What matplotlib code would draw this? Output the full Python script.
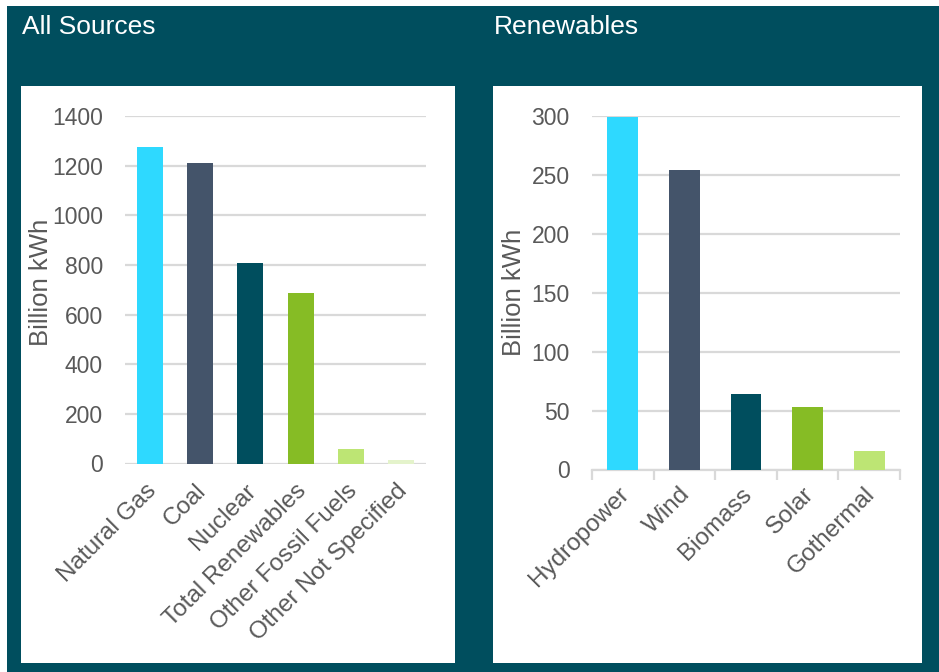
import matplotlib
matplotlib.use("Agg")
import matplotlib.pyplot as plt
import matplotlib.transforms as mtransforms
from matplotlib.patches import Rectangle

plt.rcParams['font.family'] = ['Liberation Sans', 'DejaVu Sans']

# ── Data ─────────────────────────────────────────────────────────
all_labels = ["Natural Gas", "Coal", "Nuclear", "Total Renewables",
              "Other Fossil Fuels", "Other Not Specified"]
all_values = [1274, 1211, 808, 687, 58, 14]

ren_labels = ["Hydropower", "Wind", "Biomass", "Solar", "Gothermal"]
ren_values = [299, 254, 64, 53, 16]

# ── Style ────────────────────────────────────────────────────────
BG = '#004E5E'
GRID = '#D9D9D9'
TXT = '#595959'
all_colors = ['#2ED9FF', '#44546A', '#004E5E', '#86BC25', '#BDE574', '#E4F3CB']
ren_colors = ['#2ED9FF', '#44546A', '#004E5E', '#86BC25', '#BDE574']

W, H = 939, 672
fig = plt.figure(figsize=(W / 100, H / 100), dpi=100, facecolor='white')

def px_rect(x0, y0, x1, y1, color):
    # rectangle in pixel coords (top-left origin) on the figure
    fig.patches.append(Rectangle((x0 / W, 1 - y1 / H), (x1 - x0) / W, (y1 - y0) / H,
                                 transform=fig.transFigure, facecolor=color,
                                 edgecolor='none', zorder=-10))

px_rect(7, 6, W, H, BG)
px_rect(21, 86, 455, 663, 'white')
px_rect(493, 86, 922, 663, 'white')

fig.text(22 / W, 1 - 27 / H, "All Sources", color='white', fontsize=19, va='center')
fig.text(494 / W, 1 - 27 / H, "Renewables", color='white', fontsize=19, va='center')

shift = mtransforms.ScaledTranslation(-5 / 100, 0, fig.dpi_scale_trans)


def style(ax, ymax, step):
    ax.set_facecolor('none')
    for s in ax.spines.values():
        s.set_visible(False)
    ax.set_ylim(0, ymax)
    ax.set_yticks(range(0, ymax + 1, step))
    ax.grid(axis='y', color=GRID, lw=1.6)
    ax.set_axisbelow(True)
    ax.tick_params(axis='y', length=0, pad=16, labelsize=16.5, labelcolor=TXT)
    ax.set_ylabel("Billion kWh", fontsize=18.5, color=TXT)


# ── Left: all sources ────────────────────────────────────────────
ax1 = fig.add_axes([125 / W, 1 - 463.5 / H, 301 / W, 347.5 / H])
ax1.bar(range(len(all_values)), all_values, width=0.52, color=all_colors, zorder=3)
ax1.set_xlim(-0.5, len(all_values) - 0.5)
style(ax1, 1400, 200)
ax1.set_xticks(range(len(all_labels)))
ax1.set_xticklabels(all_labels, rotation=45, ha='right', rotation_mode='anchor',
                    fontsize=17.5, color=TXT)
ax1.tick_params(axis='x', length=0, pad=12)
for t in ax1.get_xticklabels():
    t.set_transform(t.get_transform() + shift)
ax1.yaxis.set_label_coords(-0.238, 0.52)

# ── Right: renewables ────────────────────────────────────────────
ax2 = fig.add_axes([592 / W, 1 - 469.5 / H, 308 / W, 353.8 / H])
ax2.bar(range(len(ren_values)), ren_values, width=0.5, color=ren_colors, zorder=3)
ax2.set_xlim(-0.5, len(ren_values) - 0.5)
style(ax2, 300, 50)
ax2.spines['bottom'].set_visible(True)
ax2.spines['bottom'].set_color(GRID)
ax2.spines['bottom'].set_linewidth(1.6)
ax2.set_xticks([i - 0.5 for i in range(len(ren_values) + 1)], minor=False)
ax2.set_xticklabels([])
ax2.set_xticks(range(len(ren_labels)), minor=True)
ax2.set_xticklabels(ren_labels, minor=True, rotation=45, ha='right',
                    rotation_mode='anchor', fontsize=17.5, color=TXT)
ax2.tick_params(axis='x', which='major', length=7, width=1.6, color=GRID)
ax2.tick_params(axis='x', which='minor', length=0, pad=10)
for t in ax2.get_xticklabels(minor=True):
    t.set_transform(t.get_transform() + shift)
ax2.yaxis.set_label_coords(-0.215, 0.5)

fig.savefig("out.png", dpi=100)
